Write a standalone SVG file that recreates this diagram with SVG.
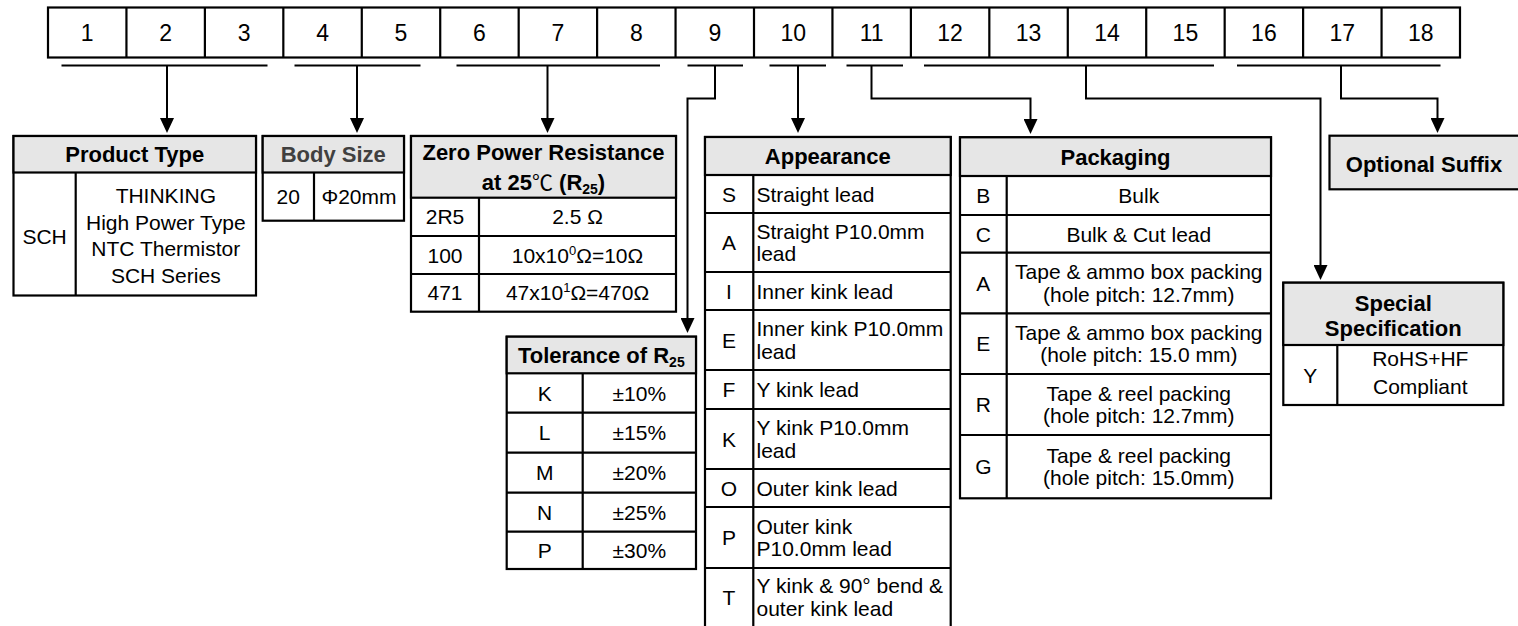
<svg xmlns="http://www.w3.org/2000/svg" width="1518" height="626" viewBox="0 0 1518 626">
<style>
.bx{fill:#fff;stroke:#000;stroke-width:2.2}
.hd{fill:#e6e6e6;stroke:#000;stroke-width:2.2}
.ln{stroke:#000;stroke-width:2.2;fill:none}
.ul{stroke:#000;stroke-width:2}
.conn{fill:none;stroke:#000;stroke-width:2;marker-end:url(#ah)}
text{font-family:"Liberation Sans",Arial,sans-serif;font-size:21px;fill:#000}
.c{text-anchor:middle}
.b{font-weight:bold;font-size:22px}
.num{font-size:23px;text-anchor:middle}
.cjk{font-family:"Noto Sans CJK SC","Liberation Sans",sans-serif;font-weight:normal;font-size:21px}
</style>
<defs>
<marker id="ah" markerUnits="userSpaceOnUse" viewBox="0 0 15 14" markerWidth="15" markerHeight="14" refX="7" refY="7" orient="auto">
<path d="M0,0 L15,7 L0,14 Z" fill="#000"/>
</marker>
</defs>

<g id="code-row">
<rect class="bx" x="48" y="7.5" width="1412" height="50"/>
<path class="ln" d="M126.44,7.5V57.5M204.89,7.5V57.5M283.33,7.5V57.5M361.78,7.5V57.5M440.22,7.5V57.5M518.67,7.5V57.5M597.11,7.5V57.5M675.56,7.5V57.5M754,7.5V57.5M832.44,7.5V57.5M910.89,7.5V57.5M989.33,7.5V57.5M1067.78,7.5V57.5M1146.22,7.5V57.5M1224.67,7.5V57.5M1303.11,7.5V57.5M1381.56,7.5V57.5"/>
<text class="num" x="87.2" y="41">1</text>
<text class="num" x="165.7" y="41">2</text>
<text class="num" x="244.1" y="41">3</text>
<text class="num" x="322.6" y="41">4</text>
<text class="num" x="401" y="41">5</text>
<text class="num" x="479.4" y="41">6</text>
<text class="num" x="557.9" y="41">7</text>
<text class="num" x="636.3" y="41">8</text>
<text class="num" x="714.8" y="41">9</text>
<text class="num" x="793.2" y="41">10</text>
<text class="num" x="871.7" y="41">11</text>
<text class="num" x="950.1" y="41">12</text>
<text class="num" x="1028.6" y="41">13</text>
<text class="num" x="1107" y="41">14</text>
<text class="num" x="1185.4" y="41">15</text>
<text class="num" x="1263.9" y="41">16</text>
<text class="num" x="1342.3" y="41">17</text>
<text class="num" x="1420.8" y="41">18</text>
</g>

<g id="connectors">
<path class="ul" d="M61.5,65.5H267.5M294.5,65.5H420.5M456.5,65.5H660M687.5,65.5H743M769.5,65.5H826M846.5,65.5H903M924,65.5H1214M1237,65.5H1440.5"/>
<path class="conn" d="M167,65.5V125"/>
<path class="conn" d="M357,65.5V125"/>
<path class="conn" d="M547.5,65.5V125"/>
<path class="conn" d="M715,65.5V98.5H687.5V325"/>
<path class="conn" d="M798,65.5V125"/>
<path class="conn" d="M871.5,65.5V98.5H1030.5V126"/>
<path class="conn" d="M1086,65.5V98.5H1320.5V272"/>
<path class="conn" d="M1341,65.5V98.5H1437.5V125"/>
</g>

<g id="product-type">
<rect class="bx" x="13.5" y="136" width="242.5" height="159.5"/>
<rect class="hd" x="13.5" y="136" width="242.5" height="36.5"/>
<path class="ln" d="M75.7,172.5V295.5"/>
<text class="c b" x="134.7" y="162">Product Type</text>
<text class="c" x="44.6" y="244">SCH</text>
<text class="c" x="165.8" y="203">THINKING</text>
<text class="c" x="165.8" y="229.5">High Power Type</text>
<text class="c" x="165.8" y="256">NTC Thermistor</text>
<text class="c" x="165.8" y="282.5">SCH Series</text>
</g>

<g id="body-size">
<rect class="bx" x="262.7" y="136" width="141.3" height="84.7"/>
<rect class="hd" x="262.7" y="136" width="141.3" height="36.5"/>
<path class="ln" d="M314,172.5V220.7"/>
<text class="c b" x="333.3" y="162" style="fill:#404040">Body Size</text>
<text class="c" x="288.3" y="204">20</text>
<text class="c" x="359" y="204">Φ20mm</text>
</g>

<g id="zero-power-resistance">
<rect class="bx" x="411" y="136" width="265" height="175.7"/>
<rect class="hd" x="411" y="136" width="265" height="61.7"/>
<path class="ln" d="M479,197.7V311.7M411,236H676M411,274H676"/>
<text class="c b" x="543.5" y="160">Zero Power Resistance</text>
<text class="c b" x="543.5" y="190">at 25<tspan class="cjk">℃</tspan> (R<tspan dy="4" font-size="14">25</tspan><tspan dy="-4">)</tspan></text>
<text class="c" x="445" y="224.4">2R5</text>
<text class="c" x="577.5" y="224.4">2.5 Ω</text>
<text class="c" x="445" y="262.5">100</text>
<text class="c" x="577.5" y="262.5">10x10<tspan dy="-8" font-size="13">0</tspan><tspan dy="8">Ω=10Ω</tspan></text>
<text class="c" x="445" y="300.4">471</text>
<text class="c" x="577.5" y="300.4">47x10<tspan dy="-8" font-size="13">1</tspan><tspan dy="8">Ω=470Ω</tspan></text>
</g>

<g id="tolerance">
<rect class="bx" x="506.7" y="336.7" width="189.3" height="232.3"/>
<rect class="hd" x="506.7" y="336.7" width="189.3" height="36.6"/>
<path class="ln" d="M582.7,373.3V569M506.7,412.7H696M506.7,452.7H696M506.7,492.7H696M506.7,531.7H696"/>
<text class="c b" x="601.3" y="362.8">Tolerance of R<tspan dy="4" font-size="14">25</tspan></text>
<text class="c" x="544.7" y="400.5">K</text>
<text class="c" x="639.3" y="400.5">±10%</text>
<text class="c" x="544.7" y="440.2">L</text>
<text class="c" x="639.3" y="440.2">±15%</text>
<text class="c" x="544.7" y="480.2">M</text>
<text class="c" x="639.3" y="480.2">±20%</text>
<text class="c" x="544.7" y="519.7">N</text>
<text class="c" x="639.3" y="519.7">±25%</text>
<text class="c" x="544.7" y="557.8">P</text>
<text class="c" x="639.3" y="557.8">±30%</text>
</g>

<g id="appearance">
<rect class="bx" x="705" y="137" width="245.7" height="492"/>
<rect class="hd" x="705" y="137" width="245.7" height="38"/>
<path class="ln" d="M753.3,175V629M705,213H950.7M705,272H950.7M705,310H950.7M705,370H950.7M705,409H950.7M705,469H950.7M705,507H950.7M705,568H950.7"/>
<text class="c b" x="827.8" y="163.8">Appearance</text>
<text class="c" x="729" y="201.5">S</text>
<text x="756.5" y="201.5">Straight lead</text>
<text class="c" x="729" y="250">A</text>
<text x="756.5" y="238.8">Straight P10.0mm</text>
<text x="756.5" y="261.3">lead</text>
<text class="c" x="729" y="298.5">I</text>
<text x="756.5" y="298.5">Inner kink lead</text>
<text class="c" x="729" y="347.5">E</text>
<text x="756.5" y="336.3">Inner kink P10.0mm</text>
<text x="756.5" y="358.8">lead</text>
<text class="c" x="729" y="397">F</text>
<text x="756.5" y="397">Y kink lead</text>
<text class="c" x="729" y="446.5">K</text>
<text x="756.5" y="435.3">Y kink P10.0mm</text>
<text x="756.5" y="457.8">lead</text>
<text class="c" x="729" y="495.5">O</text>
<text x="756.5" y="495.5">Outer kink lead</text>
<text class="c" x="729" y="545">P</text>
<text x="756.5" y="533.8">Outer kink</text>
<text x="756.5" y="556.3">P10.0mm lead</text>
<text class="c" x="729" y="604.5">T</text>
<text x="756.5" y="593.3">Y kink &amp; 90° bend &amp;</text>
<text x="756.5" y="615.8">outer kink lead</text>
</g>

<g id="packaging">
<rect class="bx" x="960" y="137.3" width="311" height="361"/>
<rect class="hd" x="960" y="137.3" width="311" height="38.7"/>
<path class="ln" d="M1006.7,176V498.3M960,215H1271M960,252.7H1271M960,313.3H1271M960,374H1271M960,435H1271"/>
<text class="c b" x="1115.5" y="164.5">Packaging</text>
<text class="c" x="983.3" y="203">B</text>
<text class="c" x="1138.8" y="203">Bulk</text>
<text class="c" x="983.3" y="241.5">C</text>
<text class="c" x="1138.8" y="241.5">Bulk &amp; Cut lead</text>
<text class="c" x="983.3" y="290.5">A</text>
<text class="c" x="1138.8" y="279.2">Tape &amp; ammo box packing</text>
<text class="c" x="1138.8" y="301.8">(hole pitch: 12.7mm)</text>
<text class="c" x="983.3" y="351.2">E</text>
<text class="c" x="1138.8" y="339.9">Tape &amp; ammo box packing</text>
<text class="c" x="1138.8" y="362.4">(hole pitch: 15.0 mm)</text>
<text class="c" x="983.3" y="412">R</text>
<text class="c" x="1138.8" y="400.7">Tape &amp; reel packing</text>
<text class="c" x="1138.8" y="423.2">(hole pitch: 12.7mm)</text>
<text class="c" x="983.3" y="474.2">G</text>
<text class="c" x="1138.8" y="462.9">Tape &amp; reel packing</text>
<text class="c" x="1138.8" y="485.4">(hole pitch: 15.0mm)</text>
</g>

<g id="optional-suffix">
<rect class="hd" x="1329.5" y="135.7" width="190" height="53.6"/>
<text class="c b" x="1424" y="172">Optional Suffix</text>
</g>

<g id="special-specification">
<rect class="bx" x="1283.3" y="282.7" width="220" height="122.3"/>
<rect class="hd" x="1283.3" y="282.7" width="220" height="62.3"/>
<path class="ln" d="M1337.3,345V405"/>
<text class="c b" x="1393.3" y="310.5">Special</text>
<text class="c b" x="1393.3" y="336">Specification</text>
<text class="c" x="1310.3" y="382.5">Y</text>
<text class="c" x="1420.3" y="365.8">RoHS+HF</text>
<text class="c" x="1420.3" y="394.2">Compliant</text>
</g>
</svg>
